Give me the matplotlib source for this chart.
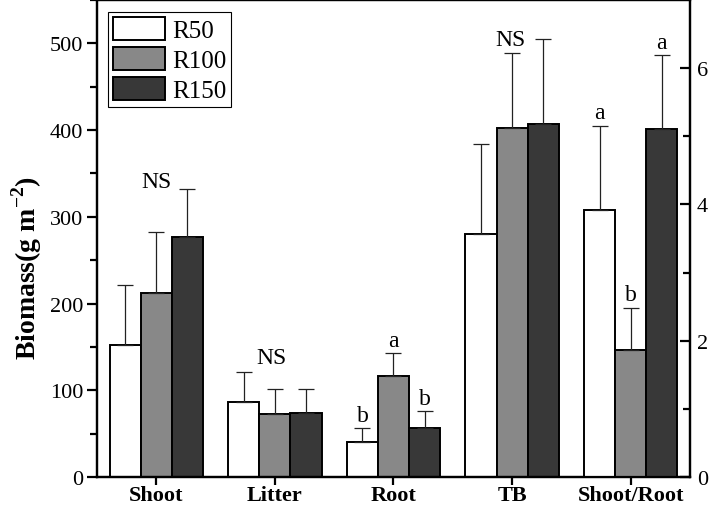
"""Biomass by rainfall treatment, with shoot/root ratio on a second axis."""
import matplotlib.pyplot as plt
import numpy as np

plt.rcParams['font.family'] = ['Liberation Serif', 'DejaVu Serif']
plt.rcParams['mathtext.fontset'] = 'custom'
plt.rcParams['mathtext.rm'] = 'Liberation Serif'
plt.rcParams['mathtext.bf'] = 'Liberation Serif:bold'

CATS = ["Shoot", "Litter", "Root", "TB", "Shoot/Root"]
TREATS = ["R50", "R100", "R150"]
COLORS = ["white", "#888888", "#383838"]

# biomass (g m-2), left axis: Shoot, Litter, Root, TB
MEANS = {
    "R50": [152, 87, 40.5, 280],
    "R100": [212, 73, 117, 402],
    "R150": [277, 74, 56.5, 407],
}
ERRS = {
    "R50": [69, 34, 16, 104],
    "R100": [71, 29, 26, 87],
    "R150": [55, 27, 20, 98],
}
# shoot/root ratio, right axis
RATIO = [3.92, 1.86, 5.11]
RATIO_ERR = [1.23, 0.62, 1.08]

# significance letters: (category index, treatment index, label, y)
LETTERS_LEFT = [(0, 1, "NS", 341), (1, 0.9, "NS", 138),
                (2, 0, "b", 71), (2, 1, "a", 157), (2, 2, "b", 91),
                (3, 0.95, "NS", 504)]
LETTERS_RIGHT = [(4, 0, "a", 5.35), (4, 1, "b", 2.68), (4, 2, "a", 6.37)]

W = 0.262
x = np.arange(len(CATS))

fig = plt.figure(figsize=(7.11, 5.10), dpi=100)
ax = fig.add_axes([97 / 711, 32 / 510, (690 - 97) / 711, (509 - 32) / 510])
ax2 = ax.twinx()

ekw = dict(ecolor="#222222", elinewidth=0.9, capsize=6, capthick=0.9)
for j, t in enumerate(TREATS):
    xs = x[:4] + (j - 1) * W
    ax.bar(xs, MEANS[t], W, color=COLORS[j], edgecolor="black", lw=1.4,
           yerr=[np.zeros(4), ERRS[t]], error_kw=ekw, label=t, zorder=2)
    ax2.bar(x[4] + (j - 1) * W, RATIO[j], W, color=COLORS[j], edgecolor="black",
            lw=1.4, yerr=[[0], [RATIO_ERR[j]]], error_kw=ekw, zorder=2)

for ci, tj, s, y in LETTERS_LEFT:
    ax.text(x[ci] + (tj - 1) * W, y, s, ha="center", va="center", fontsize=17)
for ci, tj, s, y in LETTERS_RIGHT:
    ax2.text(x[ci] + (tj - 1) * W, y, s, ha="center", va="center", fontsize=17)

ax.set_xlim(-0.5, 4.5)
ax.set_ylim(0, 550)
ax2.set_ylim(0, 7)
ax.set_yticks(np.arange(0, 501, 100))
ax.set_yticks(np.arange(50, 551, 100), minor=True)
ax2.set_yticks([0, 2, 4, 6])
ax2.set_yticks([1, 3, 5], minor=True)
ax.set_xticks(x)
ax.set_xticklabels(CATS, fontweight="bold", fontsize=17)
ax.set_ylabel(r"Biomass(g m$^{\mathbf{-2}}$)", fontweight="bold", fontsize=20)
ax.yaxis.set_label_coords(-0.09, 0.44)

for a in (ax, ax2):
    for sp in a.spines.values():
        sp.set_linewidth(1.6)
ax.tick_params(axis="both", which="major", labelsize=16, width=1.6, length=7,
               direction="out", pad=3)
ax.tick_params(axis="both", which="minor", width=1.6, length=5, direction="out")
ax.tick_params(axis="x", pad=0, length=6)
ax2.tick_params(axis="y", which="major", labelsize=16, width=1.6, length=7,
                direction="in", pad=5)
ax2.tick_params(axis="y", which="minor", width=1.6, length=5, direction="in")

ax.legend(loc="upper left", bbox_to_anchor=(0.018, 0.975), fontsize=18, frameon=True,
          fancybox=False, edgecolor="black", framealpha=1, handlelength=2.1,
          handleheight=1.05, handletextpad=0.28, borderpad=0.2, labelspacing=0.2,
          borderaxespad=0.0).get_frame().set_linewidth(0.8)

fig.savefig("out.png", dpi=100)
